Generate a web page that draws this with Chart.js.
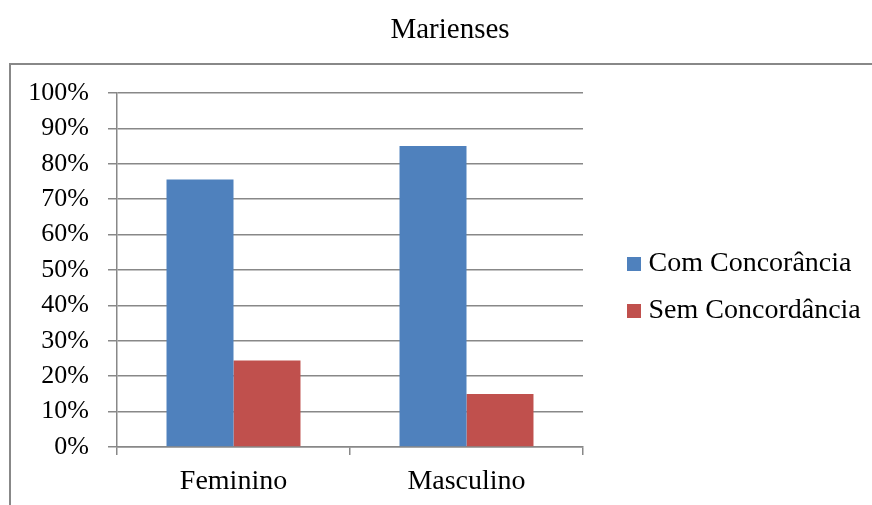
<!DOCTYPE html>
<html>
<head>
<meta charset="utf-8">
<script src="https://cdn.jsdelivr.net/npm/chart.js@4.4.1/dist/chart.umd.min.js"></script>
<style>
  html, body { margin: 0; padding: 0; background: #fff; overflow: hidden; }
  #wrap { width: 872px; height: 505px; position: relative; }
</style>
</head>
<body>
<div id="wrap"><canvas id="chart"></canvas></div>
<script>
// Chart data
const chartTitle = 'Marienses';
const categories = ['Feminino', 'Masculino'];
const seriesNames = ['Com Concorância', 'Sem Concordância'];
const comConcordancia = [75.6, 85.0];
const semConcordancia = [24.4, 15.0];
const seriesColors = ['#4F81BD', '#C0504D'];

const FONT = '"Liberation Serif", "Times New Roman", Times, serif';
const GRID = '#888888';

// Frame round the chart, like the original Office chart border
const framePlugin = {
    id: 'frame',
    beforeDraw(chart) {
        const ctx = chart.ctx;
        ctx.save();
        ctx.strokeStyle = GRID;
        ctx.lineWidth = 2;
        ctx.strokeRect(10, 64, 1000, 1000);
        ctx.restore();
    }
};

// Keep the legend column a fixed width, then nudge title and legend
// to where the original had them
const placePlugin = {
    id: 'place',
    beforeLayout(chart) {
        const lg = chart.legend;
        if (lg && !lg._fixedFit) {
            const fit = lg.fit;
            lg.fit = function () {
                fit.call(this);
                this.width = 289;
            };
            lg._fixedFit = true;
        }
    },
    afterLayout(chart) {
        const t = chart.titleBlock;
        if (t) {
            const w = t.right - t.left;
            t.left = 450 - w / 2;
            t.right = t.left + w;
        }
        const lg = chart.legend;
        if (lg) {
            lg.left = 614.5;
            lg.right = chart.width;
            lg.width = lg.right - lg.left;
            lg.top = 231;
            lg.bottom = chart.height;
            lg.height = lg.bottom - lg.top;
        }
    }
};

Chart.defaults.font.family = FONT;
Chart.defaults.color = '#000';

new Chart(document.getElementById('chart'), {
    type: 'bar',
    data: {
        labels: categories,
        datasets: [
            {
                label: seriesNames[0],
                data: comConcordancia,
                backgroundColor: seriesColors[0],
                borderWidth: 0
            },
            {
                label: seriesNames[1],
                data: semConcordancia,
                backgroundColor: seriesColors[1],
                borderWidth: 0
            }
        ]
    },
    options: {
        responsive: true,
        maintainAspectRatio: false,
        animation: false,
        layout: {
            padding: { left: 20, right: 0, top: 0, bottom: 9 }
        },
        datasets: {
            bar: {
                categoryPercentage: 0.575,
                barPercentage: 1
            }
        },
        plugins: {
            title: {
                display: true,
                text: chartTitle,
                font: { size: 29, weight: 'normal' },
                padding: { top: 13, bottom: 45.2 }
            },
            legend: {
                position: 'right',
                align: 'start',
                labels: {
                    usePointStyle: true,
                    pointStyle: 'rect',
                    boxWidth: 1,
                    boxHeight: 14,
                    padding: 19,
                    font: { size: 28 }
                }
            },
            tooltip: { enabled: false }
        },
        scales: {
            x: {
                afterFit: (scale) => { scale.height = 49; },
                grid: {
                    offset: true,
                    drawOnChartArea: false,
                    tickLength: 8,
                    color: GRID,
                    lineWidth: 1.5
                },
                border: { color: GRID, width: 1.5 },
                ticks: { padding: 10, font: { size: 28 } }
            },
            y: {
                min: 0,
                max: 100,
                afterFit: (scale) => { scale.width = 97; },
                grid: {
                    tickLength: 9,
                    color: GRID,
                    lineWidth: 1.5
                },
                border: { color: GRID, width: 1.5 },
                ticks: {
                    stepSize: 10,
                    padding: 19,
                    font: { size: 26 },
                    callback: (v) => v + '%'
                }
            }
        }
    },
    plugins: [framePlugin, placePlugin]
});
</script>
</body>
</html>
